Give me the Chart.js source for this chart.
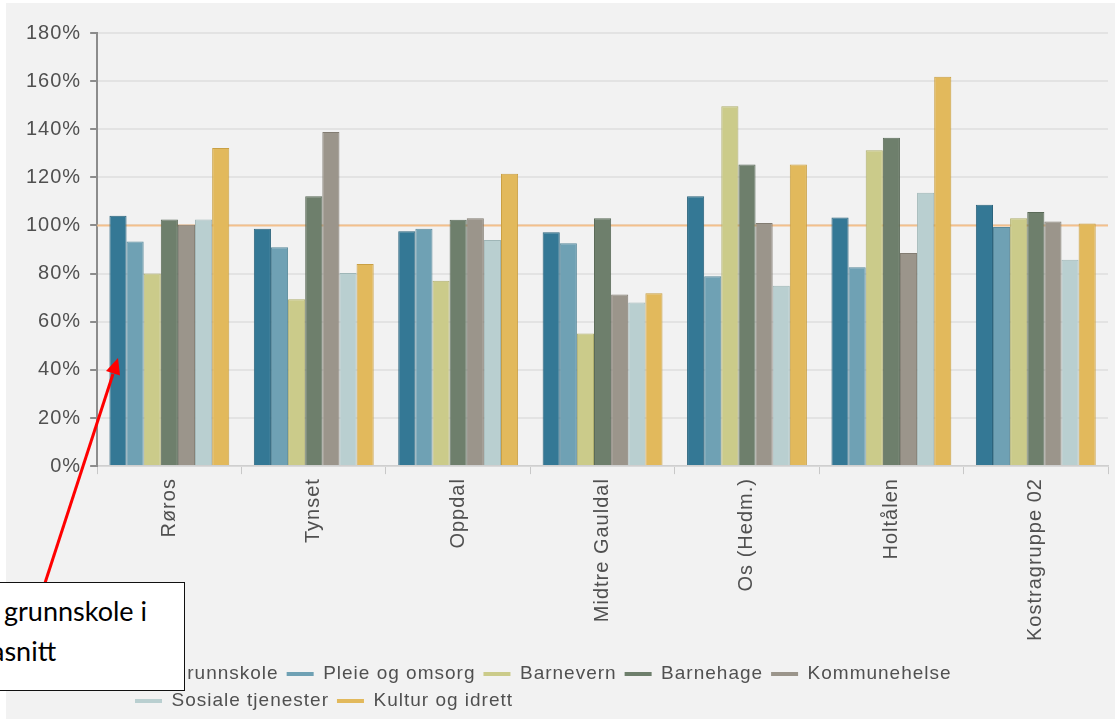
<!DOCTYPE html>
<html>
<head>
<meta charset="utf-8">
<script src="https://cdn.jsdelivr.net/npm/chart.js@4.4.1/dist/chart.umd.min.js"></script>
<style>
html, body { margin: 0; padding: 0; background: #fff; }
#wrap { position: relative; width: 1115px; height: 719px; overflow: hidden; }
#panel { position: absolute; left: 6px; top: 3px; right: 0; bottom: 0; background: #f2f2f2; }
#c { position: absolute; left: 0; top: 0; }
#arrow { position: absolute; left: 0; top: 0; }
#note { position: absolute; left: -4px; top: 582px; width: 187px; height: 107px; background: #fff;
        border: 1.5px solid #111; overflow: hidden; font-family: Lato, sans-serif; font-size: 27px; color: #000; }
#note span { position: absolute; white-space: pre; line-height: 1; }
</style>
</head>
<body>
<div id="wrap">
  <div id="panel"></div>
  <canvas id="c" width="1115" height="719"></canvas>
  <svg id="arrow" width="1115" height="719">
    <line x1="45" y1="583" x2="113" y2="374" stroke="#ff0000" stroke-width="3"/>
    <polygon points="118,358 106,371 120,375.5" fill="#ff0000"/>
  </svg>
  <div id="note">
    <span style="left:7px; top:14px;">grunnskole i</span>
    <span style="left:-6px; top:54px;">asnitt</span>
  </div>
</div>
<script>
// kommuner / grupper
var categories = ['Røros', 'Tynset', 'Oppdal', 'Midtre Gauldal', 'Os (Hedm.)', 'Holtålen', 'Kostragruppe 02'];

// prosent av landsgjennomsnitt, lest av bildet
var grunnskole   = [104.0,  98.6,  97.6,  97.2, 112.2, 103.3, 108.6];
var pleieOmsorg  = [ 93.3,  91.0,  98.6,  92.6,  78.9,  82.6,  99.4];
var barnevern    = [ 80.0,  69.4,  77.0,  55.1, 149.6, 131.3, 103.0];
var barnehage    = [102.5, 112.2, 102.4, 103.0, 125.3, 136.5, 105.6];
var kommunehelse = [100.3, 138.9, 103.0,  71.3, 101.0,  88.6, 101.7];
var sosiale      = [102.5,  80.3,  94.0,  68.0,  75.0, 113.6,  85.8];
var kultur       = [132.2,  84.0, 121.5,  71.8, 125.3, 161.8, 100.8];

var seriesNames = ['Grunnskole', 'Pleie og omsorg', 'Barnevern', 'Barnehage', 'Kommunehelse', 'Sosiale tjenester', 'Kultur og idrett'];
var seriesValues = [grunnskole, pleieOmsorg, barnevern, barnehage, kommunehelse, sosiale, kultur];

var yMin = 0, yMax = 180, yStep = 20;
var referenceValue = 100;

var fills = ['#347895', '#6fa1b4', '#cbcb8a', '#6e7f6c', '#9b958b', '#b9cfd0', '#e2b95c'];
var borders = ['#2a637c', '#5a8a9c', '#b0b06f', '#5a6a58', '#827c72', '#9fb6b7', '#c9a044'];

var datasets = seriesNames.map(function (name, i) {
    return {
        label: name,
        data: seriesValues[i],
        backgroundColor: fills[i],
        borderColor: borders[i],
        borderWidth: 1,
        barPercentage: 1,
        categoryPercentage: 0.83
    };
});

// slightly wider text spacing, like the original
var spacing = '1px';
var spacingPlugin = {
    id: 'spacing',
    beforeUpdate: function (chart) { chart.ctx.letterSpacing = spacing; },
    beforeLayout: function (chart) { chart.ctx.letterSpacing = spacing; },
    beforeDraw: function (chart) { chart.ctx.letterSpacing = spacing; }
};

var refLinePlugin = {
    id: 'refLine',
    beforeDatasetsDraw: function (chart) {
        var ctx = chart.ctx;
        var area = chart.chartArea;
        var y = chart.scales.y.getPixelForValue(referenceValue);
        ctx.save();
        ctx.strokeStyle = '#f3c08c';
        ctx.lineWidth = 2;
        ctx.beginPath();
        ctx.moveTo(area.left, y);
        ctx.lineTo(area.right, y);
        ctx.stroke();
        ctx.restore();
    }
};

// legend rows start at the left, not centered
var legendPlacePlugin = {
    id: 'legendPlace',
    afterLayout: function (chart) {
        var lg = chart.legend;
        lg.left = 127;
        lg.right = 1108;
        lg.top = 656.5;
        lg.bottom = 719;
    }
};

Chart.defaults.font.family = "'Liberation Sans', Arial, sans-serif";
Chart.defaults.font.size = 20;
Chart.defaults.color = '#505050';

new Chart(document.getElementById('c'), {
    type: 'bar',
    data: { labels: categories, datasets: datasets },
    options: {
        responsive: false,
        animation: false,
        devicePixelRatio: 1,
        layout: { padding: { left: 17, right: 7, top: 33, bottom: 10 } },
        scales: {
            x: {
                grid: { display: true, drawOnChartArea: false, drawTicks: true, tickLength: 8, color: '#c8c8c8', tickColor: '#c8c8c8' },
                border: { color: '#cfcfcf', width: 1.5 },
                ticks: { minRotation: 90, maxRotation: 90, autoSkip: false, padding: 4, font: { size: 20 } }
            },
            y: {
                min: yMin,
                max: yMax,
                grid: { color: '#e3e3e3', lineWidth: 2, tickLength: 7, tickColor: '#8c8c8c' },
                border: { color: '#8c8c8c', width: 2 },
                ticks: {
                    stepSize: yStep,
                    padding: 9,
                    callback: function (v) { return v + '%'; }
                }
            }
        },
        plugins: {
            tooltip: { enabled: false },
            legend: {
                position: 'bottom',
                align: 'start',
                labels: {
                    boxWidth: 27,
                    boxHeight: 4,
                    padding: 8,
                    color: '#505050',
                    font: { size: 19 },
                    generateLabels: function (chart) {
                        return Chart.defaults.plugins.legend.labels.generateLabels(chart).map(function (l) {
                            l.lineWidth = 0;
                            return l;
                        });
                    }
                }
            }
        }
    },
    plugins: [spacingPlugin, refLinePlugin, legendPlacePlugin]
});
</script>
</body>
</html>
